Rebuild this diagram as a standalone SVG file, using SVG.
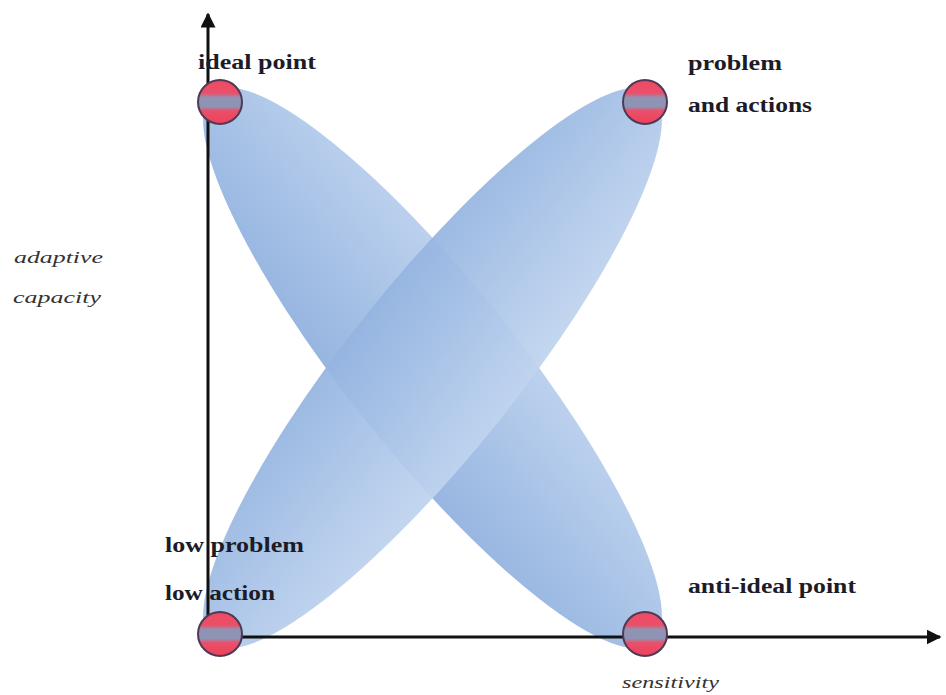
<svg xmlns="http://www.w3.org/2000/svg" width="946" height="695" viewBox="0 0 946 695">
<defs>
<linearGradient id="g1" x1="0" y1="0" x2="0" y2="1" gradientUnits="objectBoundingBox">
<stop offset="0" stop-color="#bcd1ee"/>
<stop offset="1" stop-color="#96b5e0"/>
</linearGradient>
<linearGradient id="g2" x1="0" y1="0" x2="0" y2="1" gradientUnits="objectBoundingBox">
<stop offset="0" stop-color="#94b4e0"/>
<stop offset="1" stop-color="#c0d4ef"/>
</linearGradient>
<linearGradient id="dot" x1="0" y1="0" x2="0" y2="1">
<stop offset="0" stop-color="#f04a62"/>
<stop offset="0.3" stop-color="#e9506a"/>
<stop offset="0.4" stop-color="#8f94b4"/>
<stop offset="0.6" stop-color="#8f94b4"/>
<stop offset="0.7" stop-color="#e9506a"/>
<stop offset="1" stop-color="#f0405a"/>
</linearGradient>
<marker id="ah" viewBox="0 0 10 10" refX="9" refY="5" markerWidth="5" markerHeight="5" orient="auto" markerUnits="strokeWidth">
<path d="M0,0 L10,5 L0,10 z" fill="#111"/>
</marker>
</defs>
<style>
.lbl{font-family:"Liberation Serif","Times New Roman",serif;font-weight:bold;font-size:20px;fill:#1c1c28}
.ax{font-family:"Liberation Serif","Times New Roman",serif;font-style:italic;font-size:17px;fill:#333}
.dot{fill:url(#dot);stroke:#4e3a55;stroke-width:2}
.axis{stroke:#111;stroke-width:3;fill:none}
</style>
<g id="shapes">
<ellipse id="ellipse-desc" cx="432.5" cy="368" rx="352" ry="85" fill="url(#g1)" transform="rotate(51.4 432.5 368)"/>
<ellipse id="ellipse-asc" cx="432.5" cy="368" rx="352" ry="85" fill="url(#g2)" opacity="0.93" transform="rotate(-51.4 432.5 368)"/>
</g>
<g id="connectors">
<line class="axis" x1="208" y1="637" x2="208" y2="14" marker-end="url(#ah)"/>
<line class="axis" x1="208" y1="637" x2="940" y2="637" marker-end="url(#ah)"/>
</g>
<g id="node-ideal">
<circle class="dot" cx="220" cy="102" r="22"/>
<text class="lbl" x="198" y="69" textLength="118" lengthAdjust="spacingAndGlyphs">ideal point</text>
</g>
<g id="node-problem-actions">
<circle class="dot" cx="645" cy="102" r="22"/>
<text class="lbl" x="688" y="70" textLength="94" lengthAdjust="spacingAndGlyphs">problem</text>
<text class="lbl" x="688" y="112" textLength="124" lengthAdjust="spacingAndGlyphs">and actions</text>
</g>
<g id="node-low">
<circle class="dot" cx="220" cy="634" r="22"/>
<text class="lbl" x="165" y="552" textLength="139" lengthAdjust="spacingAndGlyphs">low problem</text>
<text class="lbl" x="165" y="600" textLength="110" lengthAdjust="spacingAndGlyphs">low action</text>
</g>
<g id="node-anti-ideal">
<circle class="dot" cx="645" cy="634" r="22"/>
<text class="lbl" x="688" y="593" textLength="168" lengthAdjust="spacingAndGlyphs">anti-ideal point</text>
</g>
<g id="axis-labels">
<text class="ax" x="14" y="263" textLength="89" lengthAdjust="spacingAndGlyphs">adaptive</text>
<text class="ax" x="13" y="303" textLength="88" lengthAdjust="spacingAndGlyphs">capacity</text>
<text class="ax" x="622" y="688" textLength="97" lengthAdjust="spacingAndGlyphs">sensitivity</text>
</g>
</svg>
